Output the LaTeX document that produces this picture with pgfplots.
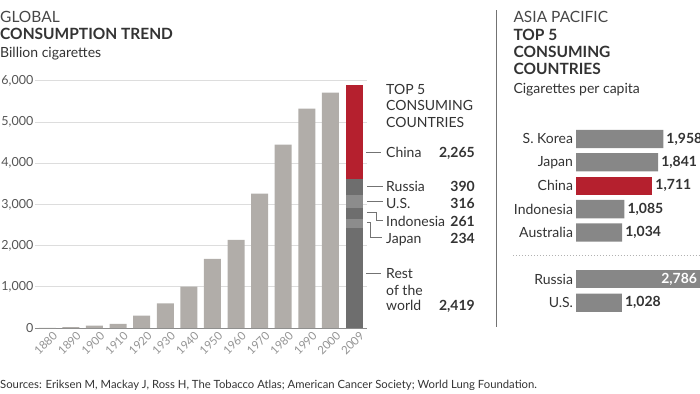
\documentclass[border=0pt]{standalone}
\usepackage{pgfplots}
\pgfplotsset{compat=1.18}
\usepackage{pgfplotstable}
\usepackage{fontspec}
\setmainfont{Lato}
\definecolor{lightbar}{HTML}{B1ADA9}
\definecolor{darkseg}{HTML}{6E6E6E}
\definecolor{midseg}{HTML}{8C8C8C}
\definecolor{redbar}{HTML}{B5202E}
\definecolor{rbar}{HTML}{878787}
\definecolor{gridc}{HTML}{DDDDDD}
\definecolor{txt}{HTML}{333333}
\definecolor{ticktxt}{HTML}{555555}

\pgfplotstableread{
x base rest japan indo us russia china
0 5 0 0 0 0 0 0
1 20 0 0 0 0 0 0
2 55 0 0 0 0 0 0
3 100 0 0 0 0 0 0
4 300 0 0 0 0 0 0
5 600 0 0 0 0 0 0
6 1005 0 0 0 0 0 0
7 1680 0 0 0 0 0 0
8 2140 0 0 0 0 0 0
9 3260 0 0 0 0 0 0
10 4450 0 0 0 0 0 0
11 5320 0 0 0 0 0 0
12 5710 0 0 0 0 0 0
13 0 2419 234 261 316 390 2265
}\globaldata

\begin{document}
\begin{tikzpicture}[font=\fontsize{14bp}{16bp}\selectfont, text=txt]
\path[use as bounding box] (0,0) rectangle (700bp,-394bp);

% ---------- left titles
\node[anchor=base west, inner sep=0pt, font=\fontsize{15.5bp}{17bp}\selectfont, text=txt!90] at (0,-22.7bp) {GLOBAL};
\node[anchor=base west, inner sep=0pt, font=\fontsize{15.5bp}{17bp}\selectfont\bfseries, text=txt] at (0,-39bp) {CONSUMPTION TREND};
\node[anchor=base west, inner sep=0pt] at (0,-57.5bp) {Billion cigarettes};

% ---------- left chart
\begin{axis}[
  at={(35bp,-328bp)}, anchor=south west,
  width=332bp, height=247.3bp, scale only axis,
  xmin=-0.52, xmax=13.55, ymin=0, ymax=6000,
  ybar stacked, bar width=17bp,
  axis x line*=bottom, axis y line*=left,
  y axis line style={draw=none},
  x axis line style={draw=black!45, line width=0.8bp, -},
  major tick length=0pt,
  ytick={0,1000,...,6000},
  ymajorgrids, grid style={draw=gridc, line width=0.8bp},
  scaled y ticks=false,
  /pgf/number format/.cd, 1000 sep={,}, assume math mode=true,
  /pgfplots/.cd,
  yticklabel style={text=ticktxt, font=\fontsize{12.5bp}{15bp}\selectfont, inner sep=0pt, anchor=east, xshift=-1.5bp},
  xtick={0,...,13},
  xticklabels={1880,1890,1900,1910,1920,1930,1940,1950,1960,1970,1980,1990,2000,2009},
  xticklabel style={rotate=45, anchor=north east, text=black!42, font=\fontsize{11.5bp}{13bp}\selectfont, xshift=5bp, yshift=-2bp},
  clip=false,
]
\addplot[fill=lightbar, draw=none] table[x=x, y=base] {\globaldata};
\addplot[fill=darkseg, draw=none] table[x=x, y=rest] {\globaldata};
\addplot[fill=midseg, draw=none] table[x=x, y=japan] {\globaldata};
\addplot[fill=darkseg, draw=none] table[x=x, y=indo] {\globaldata};
\addplot[fill=midseg, draw=none] table[x=x, y=us] {\globaldata};
\addplot[fill=darkseg, draw=none] table[x=x, y=russia] {\globaldata};
\addplot[fill=redbar, draw=none] table[x=x, y=china] {\globaldata};
\end{axis}

% ---------- annotation of 2009 bar
\begin{scope}[every node/.style={inner sep=0pt}]
\node[anchor=base west] at (386bp,-94bp) {TOP 5};
\node[anchor=base west] at (386bp,-110.5bp) {CONSUMING};
\node[anchor=base west] at (386bp,-127bp) {COUNTRIES};
\node[anchor=base west] at (386bp,-157bp) {China};
\node[anchor=base west] at (386bp,-191.5bp) {Russia};
\node[anchor=base west] at (386bp,-208.3bp) {U.S.};
\node[anchor=base west] at (386bp,-226.7bp) {Indonesia};
\node[anchor=base west] at (386bp,-243.3bp) {Japan};
\node[anchor=base west] at (386bp,-278.3bp) {Rest};
\node[anchor=base west] at (386bp,-295bp) {of the};
\node[anchor=base west] at (386bp,-310.7bp) {world};
\node[anchor=base east, font=\fontsize{14bp}{16bp}\selectfont\bfseries] at (475bp,-157bp) {2,265};
\node[anchor=base east, font=\fontsize{14bp}{16bp}\selectfont\bfseries] at (475bp,-191.5bp) {390};
\node[anchor=base east, font=\fontsize{14bp}{16bp}\selectfont\bfseries] at (475bp,-208.3bp) {316};
\node[anchor=base east, font=\fontsize{14bp}{16bp}\selectfont\bfseries] at (475bp,-226.7bp) {261};
\node[anchor=base east, font=\fontsize{14bp}{16bp}\selectfont\bfseries] at (475bp,-243.3bp) {234};
\node[anchor=base east, font=\fontsize{14bp}{16bp}\selectfont\bfseries] at (475bp,-310.7bp) {2,419};
\end{scope}
\begin{scope}[draw=black!55, line width=0.8bp]
\draw (366bp,-152bp) -- (381bp,-152bp);
\draw (367bp,-186bp) -- (383bp,-186bp);
\draw (367bp,-201.5bp) -- (383bp,-201.5bp);
\draw (367bp,-212.7bp) -- (376.5bp,-212.7bp) -- (376.5bp,-220.5bp) -- (383bp,-220.5bp);
\draw (367bp,-222.7bp) -- (370.5bp,-222.7bp) -- (370.5bp,-237bp) -- (382bp,-237bp);
\draw (366bp,-273bp) -- (381bp,-273bp);
\end{scope}

% divider
\draw[draw=black!55, line width=1.2bp] (496.7bp,-10bp) -- (496.7bp,-327bp);

% ---------- right titles
\node[anchor=base west, inner sep=0pt, font=\fontsize{15.5bp}{17bp}\selectfont, text=txt!90] at (513.3bp,-22.7bp) {ASIA PACIFIC};
\node[anchor=base west, inner sep=0pt, font=\fontsize{15.5bp}{17bp}\selectfont\bfseries] at (513.3bp,-40.5bp) {TOP 5};
\node[anchor=base west, inner sep=0pt, font=\fontsize{15.5bp}{17bp}\selectfont\bfseries] at (513.3bp,-57.8bp) {CONSUMING};
\node[anchor=base west, inner sep=0pt, font=\fontsize{15.5bp}{17bp}\selectfont\bfseries] at (513.3bp,-74bp) {COUNTRIES};
\node[anchor=base west, inner sep=0pt] at (513.3bp,-93bp) {Cigarettes per capita};

% separator
\draw[draw=black!30, line width=1bp, dotted] (513bp,-255.7bp) -- (700bp,-255.7bp);

% ---------- right chart
\begin{axis}[
  at={(576bp,-314.4bp)}, anchor=south west,
  width=124.2bp, height=187.2bp, scale only axis,
  xmin=0, xmax=2786, ymin=-7.5, ymax=0.5,
  xbar, bar width=18.3bp, bar shift=0pt,
  axis line style={draw=none},
  major tick length=0pt,
  xtick=\empty,
  ytick={0,-1,-2,-3,-4,-6,-7},
  yticklabels={S. Korea,Japan,China,Indonesia,Australia,Russia,U.S.},
  yticklabel style={text=txt, font=\fontsize{14bp}{16bp}\selectfont, xshift=0.5bp},
  clip=false,
  nodes near coords, point meta=explicit symbolic,
  every node near coord/.append style={font=\fontsize{14bp}{16bp}\selectfont\bfseries, text=txt, anchor=west, inner sep=3bp},
]
\addplot[fill=rbar, draw=none] coordinates {(1958,0) [1,958] (1841,-1) [1,841] (1085,-3) [1,085] (1034,-4) [1,034] (1028,-7) [1,028]};
\addplot[fill=redbar, draw=none] coordinates {(1711,-2) [1,711]};
\addplot[fill=rbar, draw=none, every node near coord/.append style={text=white, anchor=east, xshift=0bp}] coordinates {(2786,-6) [2,786]};
\end{axis}

% sources
\node[anchor=base west, inner sep=0pt, font=\fontsize{11.3bp}{13bp}\selectfont, text=txt] at (0,-388bp) {Sources: Eriksen M, Mackay J, Ross H, The Tobacco Atlas; American Cancer Society; World Lung Foundation.};
\end{tikzpicture}
\end{document}
